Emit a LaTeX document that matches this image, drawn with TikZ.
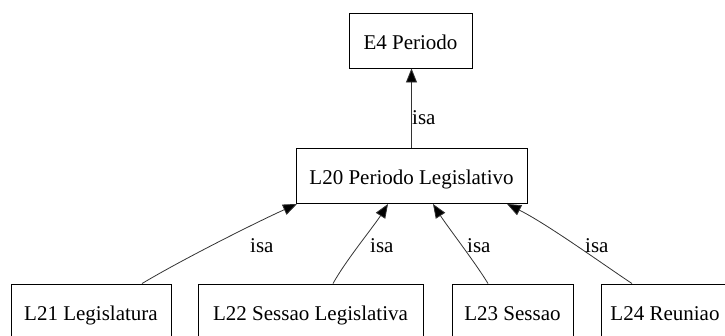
\documentclass[tikz,border=0pt]{standalone}
\usepackage{fontspec}
\setmainfont{Liberation Serif}
\usetikzlibrary{arrows.meta}
\begin{document}
\begin{tikzpicture}[x=1pt,y=-1pt,
  box/.style={draw=black,line width=0.9pt,inner sep=0pt,text height=36pt,text depth=19pt,
    font=\rmfamily\fontsize{21}{25}\selectfont},
  lbl/.style={inner sep=0pt,font=\rmfamily\fontsize{21}{25}\selectfont},
  edge/.style={draw=black!80,line width=0.8pt,-{Triangle[length=14pt,width=11pt,fill=black]}}]
\useasboundingbox (0,0) rectangle (725,335);
\clip (0,0) rectangle (725,335);
\node[box,minimum width=123pt] (e4) at (410.5,40.5) {E4 Periodo};
\node[box,minimum width=231pt] (l20) at (411.5,176) {L20 Periodo Legislativo};
\node[box,minimum width=160pt] (l21) at (91,311.5) {L21 Legislatura};
\node[box,minimum width=225pt] (l22) at (310.5,311.5) {L22 Sessao Legislativa};
\node[box,minimum width=121pt] (l23) at (512.5,311.5) {L23 Sessao};
\node[box,minimum width=128pt] (l24) at (665,311.5) {L24 Reuniao};
\draw[edge] (l20.north) -- (l20.north |- e4.south);
\draw[edge] ([xshift=51pt]l21.north) .. controls +(40,-24) and +(-40,18) .. ([xshift=-114.5pt]l20.south);
\draw[edge] ([xshift=22.5pt]l22.north) .. controls +(12,-22) and +(-14,22) .. ([xshift=-23.5pt]l20.south);
\draw[edge] ([xshift=-24.5pt]l23.north) .. controls +(-12,-20) and +(14,22) .. ([xshift=21.5pt]l20.south);
\draw[edge] ([xshift=-33pt]l24.north) .. controls +(-30,-20) and +(40,20) .. ([xshift=95.5pt]l20.south);
\node[lbl,anchor=base west] (i0) at (412,124) {isa};
\node[lbl,anchor=base west] (i1) at (250,252) {isa};
\node[lbl,anchor=base west] (i2) at (370,252) {isa};
\node[lbl,anchor=base west] (i3) at (467,252) {isa};
\node[lbl,anchor=base west] (i4) at (585,252) {isa};
\end{tikzpicture}
\end{document}
